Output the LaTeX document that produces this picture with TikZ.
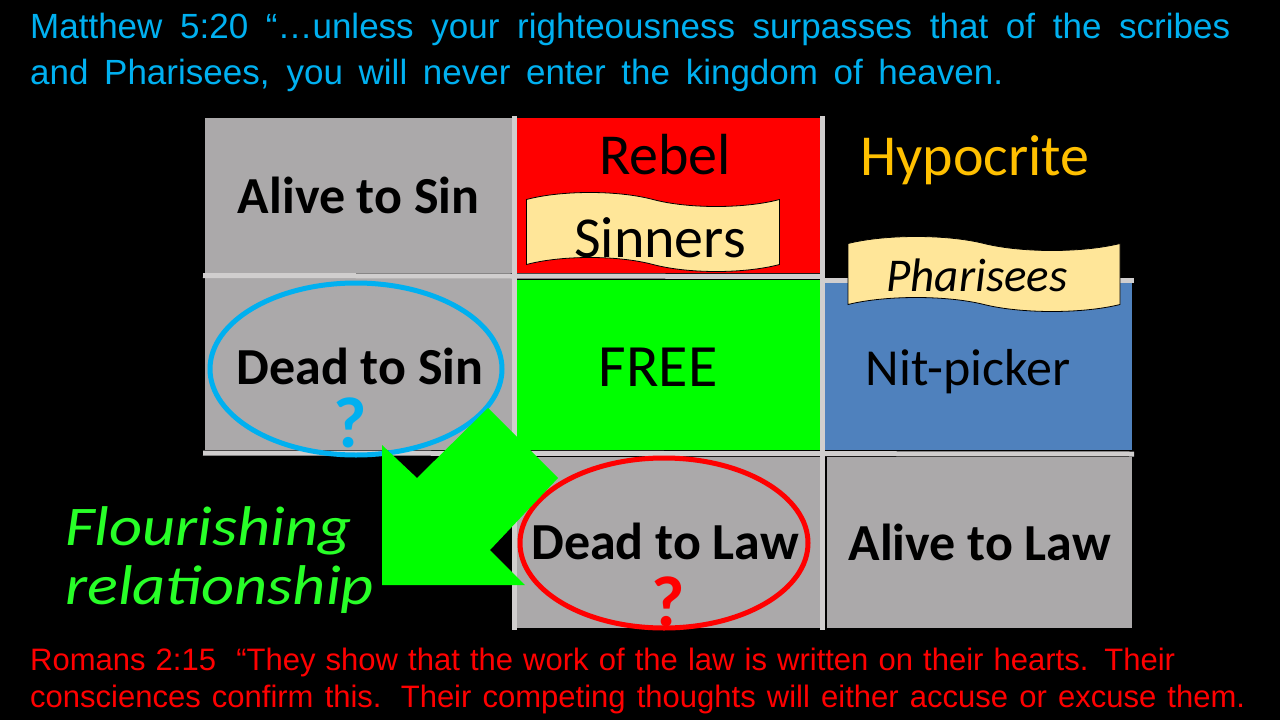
\documentclass[tikz,border=0pt]{standalone}
\usepackage{fontspec}
\setmainfont{Carlito}
\newfontfamily\versefont{Liberation Sans}
\newfontfamily\handfont[FakeStretch=1.15]{Carlito}
\usepackage{tikz}
\usetikzlibrary{positioning,shapes.geometric,shapes.symbols}

\definecolor{cellgray}{RGB}{171,169,170}
\definecolor{sepgray}{RGB}{208,206,206}
\definecolor{rebelred}{RGB}{255,0,0}
\definecolor{freegreen}{RGB}{0,255,0}
\definecolor{nitblue}{RGB}{79,129,189}
\definecolor{scroll}{RGB}{255,230,153}
\definecolor{hypo}{RGB}{255,192,0}
\definecolor{versecyan}{RGB}{0,176,240}
\definecolor{flourish}{RGB}{40,255,40}

\begin{document}
\begin{tikzpicture}[
    x=1pt, y=-1pt,
    cell/.style={anchor=north west, inner sep=0pt, fill=cellgray, font=\fontsize{52}{60}\selectfont\bfseries},
    sepline/.style={draw=sepgray, line width=5pt},
    banner/.style={tape, draw=black, line width=0.8pt, fill=scroll, inner sep=0pt,
        tape bend top=out and in, tape bend bottom=out and in, tape bend height=14pt},
    ring/.style={ellipse, line width=5pt, inner sep=0pt},
    boldword/.style={font=\fontsize{52}{60}\selectfont\bfseries},
    bigword/.style={font=\fontsize{58}{66}\selectfont},
    quest/.style={font=\fontsize{72}{80}\selectfont\bfseries, inner sep=0pt},
    verse/.style={anchor=base west, inner sep=0pt, font=\versefont\fontsize{35}{40}\selectfont},
    hand/.style={anchor=base west, inner sep=0pt, text=flourish, font=\handfont\itshape\fontsize{56}{60}\selectfont}
]
    \fill[black] (0,0) rectangle (1280,720);
    \useasboundingbox (0,0) rectangle (1280,720);

    % the grid
    \node[cell, minimum width=307pt, minimum height=155pt] (alivesin) at (205,118) {Alive to Sin};
    \node[cell, fill=rebelred, minimum width=303pt, minimum height=155pt] (rebel) at (517,118) {};
    \node[cell, minimum width=307pt, minimum height=172pt] (deadsincell) at (205,278) {};
    \node[cell, fill=freegreen, minimum width=303pt, minimum height=170pt] (free) at (517,280) {};
    \node[cell, fill=nitblue, minimum width=307pt, minimum height=168pt] (nit) at (825,282) {};
    \node[cell, minimum width=305pt, minimum height=171pt] (deadlawcell) at (515,457) {};
    \node[cell, minimum width=305pt, minimum height=171pt] (alivelaw) at (827,457) {Alive to Law};

    \draw[sepline] (514.5,116) -- (514.5,630);
    \draw[sepline] (822.5,116) -- (822.5,630);
    \draw[sepline] (203,275.5) -- (822,276.5);
    \draw[sepline] (822,280) -- (1134,280);
    \draw[sepline] (203,453) -- (1134,454);

    \node[bigword] (rebeltxt) at (665,155) {Rebel};
    \node[bigword, text=hypo] (hypotxt) at (975,160) {Hypocrite};
    \node[font=\fontsize{60}{66}\selectfont] (freetxt) at (658,367) {FREE};
    \node[font=\fontsize{52}{60}\selectfont] (nittxt) at (968,372) {Nit-picker};

    \node[banner, minimum width=253pt, minimum height=79pt] (sinners) at (653,232) {};
    \node[bigword] (sinnerstxt) at (660,238) {Sinners};
    \node[banner, minimum width=272pt, minimum height=75pt] (pharisees) at (984,274) {};
    \node[font=\fontsize{47}{54}\selectfont\itshape] (pharitxt) at (977,275) {Pharisees};

    % the two rings
    \node[ring, draw=versecyan, minimum width=292pt, minimum height=172pt] (deadsin) at (356,369) {};
    \node[boldword] (deadsintxt) at (360,366) {Dead to Sin};
    \node[quest, text=versecyan] (qsin) at (350,423) {?};
    \node[ring, draw=rebelred, minimum width=288pt, minimum height=170pt] (deadlaw) at (664,543) {};
    \node[boldword] (deadlawtxt) at (665,541) {Dead to Law};
    \node[quest, text=rebelred] (qlaw) at (668,602) {?};

    % block arrow
    \fill[freegreen] (488,408) -- (417,478) -- (382,445) -- (382,585) -- (525,585)
        -- (490,550) -- (558,478) -- cycle;

    \node[hand] (flour) at (65,545) {Flourishing};
    \node[hand] (relat) at (65,604) {relationship};

    \node[verse, text=versecyan] (mattA) at (30,38) {\makebox[1200pt][s]{Matthew 5:20 “…unless your righteousness surpasses that of the scribes}};
    \node[verse, text=versecyan] (mattB) at (30,84) {\makebox[973pt][s]{and Pharisees, you will never enter the kingdom of heaven.}};
    \node[verse, text=rebelred, font=\versefont\fontsize{31}{36}\selectfont] (romA) at (30,670) {\makebox[1145pt][s]{Romans 2:15 \ “They show that the work of the law is written on their hearts. Their}};
    \node[verse, text=rebelred, font=\versefont\fontsize{31}{36}\selectfont] (romB) at (30,707) {\makebox[1215pt][s]{consciences confirm this. Their competing thoughts will either accuse or excuse them.}};
\end{tikzpicture}
\end{document}
